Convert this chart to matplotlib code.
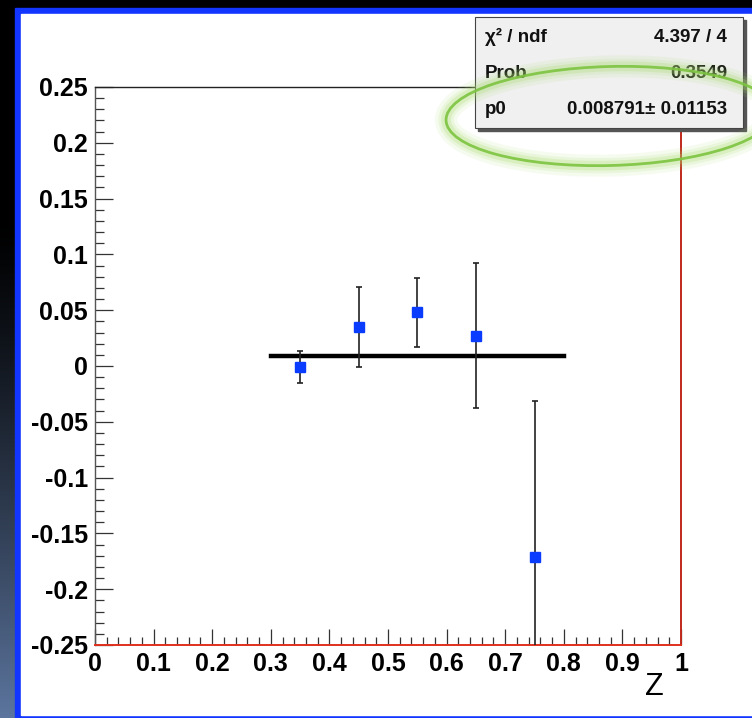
import numpy as np
import matplotlib
matplotlib.use("Agg")
import matplotlib.pyplot as plt
from matplotlib.patches import Rectangle, Ellipse
from matplotlib.ticker import MultipleLocator

plt.rcParams['font.family'] = ['Liberation Sans', 'DejaVu Sans']

# data points (z bins) with errors
z_vals = [0.35, 0.45, 0.55, 0.65, 0.75]
asym = [-0.001, 0.035, 0.048, 0.027, -0.171]
asym_err = [0.014, 0.036, 0.031, 0.065, 0.140]

# constant fit result
fit_range = [0.3, 0.8]
p0 = 0.008791
stats_rows = [("χ² / ndf", "4.397 / 4"),
              ("Prob", "0.3549"),
              ("p0", "0.008791± 0.01153")]

W, H = 752, 718
fig = plt.figure(figsize=(W / 100, H / 100), dpi=100, facecolor="black")

# background: slide frame in pixel coordinates
bg = fig.add_axes([0, 0, 1, 1], zorder=0)
bg.axis("off")
bg.add_patch(Rectangle((0, 0), W, H, color="black"))
t = np.linspace(0, 1, 256)
ramp = np.clip((t - 0.3) / 0.7, 0, 1) ** 1.3
top_c = np.array([0.0, 0.0, 0.0])
bot_c = np.array([0.36, 0.46, 0.62])
grad = (top_c[None, :] * (1 - ramp[:, None]) + bot_c[None, :] * ramp[:, None])[:, None, :]
bg.imshow(grad, extent=(0, 15, H, 0), aspect="auto", zorder=1)
bg.add_patch(Rectangle((15, 8), W, H, color="#1236ff", zorder=2))
bg.add_patch(Rectangle((21, 14), W, 701, color="white", zorder=3))
bg.set_xlim(0, W)
bg.set_ylim(H, 0)

# main plot
ax = fig.add_axes([95 / W, 1 - 645 / H, 586 / W, 558 / H], zorder=2)
ax.set_facecolor("white")
ax.errorbar(z_vals, asym, yerr=asym_err, fmt="s", color="#0a3cff",
            markersize=7.2, ecolor="#222222", elinewidth=1.2, capsize=2.5,
            capthick=1.2, zorder=3)
ax.plot(fit_range, [p0, p0], color="black", lw=3.2, zorder=2)

ax.set_xlim(0, 1)
ax.set_ylim(-0.25, 0.25)
ax.xaxis.set_major_locator(MultipleLocator(0.1))
ax.xaxis.set_minor_locator(MultipleLocator(0.02))
ax.yaxis.set_major_locator(MultipleLocator(0.05))
ax.yaxis.set_minor_locator(MultipleLocator(0.01))
ax.xaxis.set_major_formatter(lambda v, pos: f"{v:g}")
ax.yaxis.set_major_formatter(lambda v, pos: f"{v:g}" if abs(v) > 1e-9 else "0")

ax.tick_params(axis="x", which="major", direction="in", length=11.5, width=0.9,
               color="#333333", labelsize=18, pad=5, top=False)
ax.tick_params(axis="x", which="minor", direction="in", length=5.5, width=0.9,
               color="#333333", top=False)
ax.tick_params(axis="y", which="major", direction="in", length=13, width=0.9,
               color="#333333", labelsize=18, pad=5, right=False)
ax.tick_params(axis="y", which="minor", direction="in", length=6.5, width=0.9,
               color="#333333", right=False)
for lab in ax.get_xticklabels() + ax.get_yticklabels():
    lab.set_fontweight("bold")

ax.spines["bottom"].set_color("#e0301e")
ax.spines["right"].set_color("#c0281a")
ax.spines["left"].set_color("#555555")
ax.spines["top"].set_color("#222222")
for s in ax.spines.values():
    s.set_linewidth(1.0)
ax.spines["bottom"].set_linewidth(1.4)
ax.spines["right"].set_linewidth(1.4)

fig.text(654 / W, 1 - 687 / H, "Z", fontsize=22, ha="center", va="center")

# overlay: stats box and green highlight
ov = fig.add_axes([0, 0, 1, 1], zorder=5)
ov.set_xlim(0, W)
ov.set_ylim(H, 0)
ov.axis("off")
ov.patch.set_alpha(0)
ov.add_patch(Rectangle((478, 20), 268, 111, color="#555555", zorder=1))
ov.add_patch(Rectangle((475, 17), 268, 111, facecolor="#f0f0f0",
                       edgecolor="#444444", lw=0.8, zorder=2))
row_y = [37, 73, 110]
for (name, val), yy in zip(stats_rows, row_y):
    ov.text(485, yy, name, fontsize=13.5, fontweight="bold", ha="left",
            va="center", color="#111111", zorder=3)
    ov.text(727, yy, val, fontsize=13.5, fontweight="bold", ha="right",
            va="center", color="#111111", zorder=3)

for lw, a in [(16, 0.10), (11, 0.15), (7, 0.25)]:
    ov.add_patch(Ellipse((610, 116), 328, 99, angle=-1.5, fill=False,
                         edgecolor="#a8dc70", lw=lw, alpha=a, zorder=4))
ov.add_patch(Ellipse((610, 116), 328, 99, angle=-1.5, fill=False,
                     edgecolor="#7cc440", lw=2.0, alpha=0.9, zorder=5))

fig.savefig("out.png", dpi=100, facecolor="black")
